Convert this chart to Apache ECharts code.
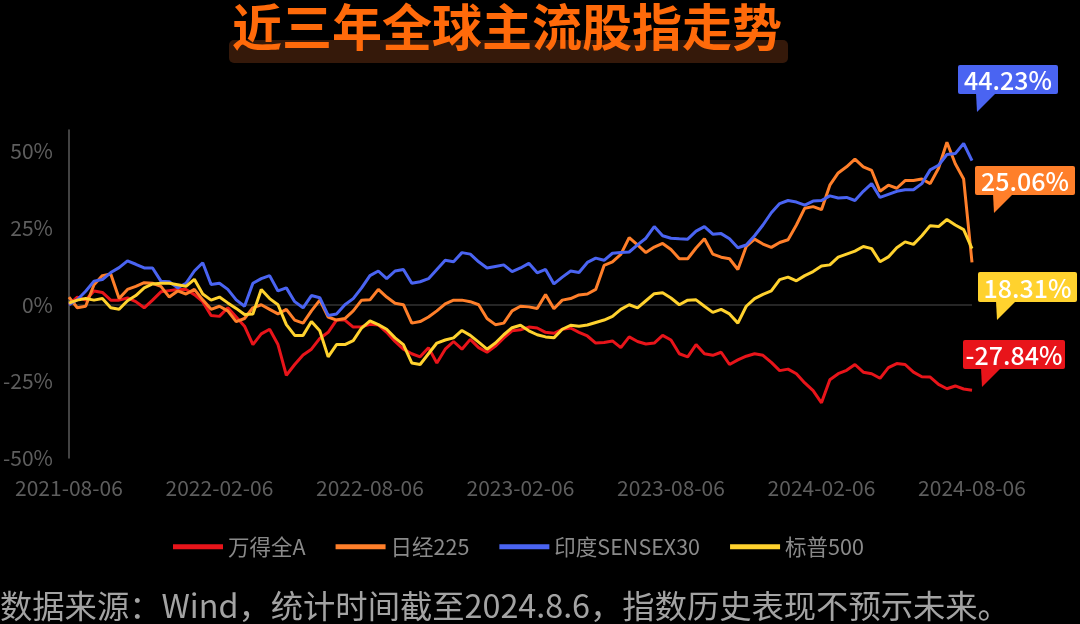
<!DOCTYPE html>
<html>
<head>
<meta charset="utf-8">
<script src="https://cdn.jsdelivr.net/npm/echarts@6/dist/echarts.min.js"></script>
<style>
html,body{margin:0;padding:0;background:#000;}
#c{width:1080px;height:624px;}
</style>
</head>
<body>
<div id="c"></div>
<script>
const titleText = '近三年全球主流股指走势';
const footText = '数据来源：Wind，统计时间截至2024.8.6，指数历史表现不预示未来。';
const seriesNames = ['万得全A', '日经225', '印度SENSEX30', '标普500'];
const endLabels = ['-27.84%', '25.06%', '44.23%', '18.31%'];
const xTickLabels = ['2021-08-06', '2022-02-06', '2022-08-06', '2023-02-06', '2023-08-06', '2024-02-06', '2024-08-06'];
const yTicks = [-50, -25, 0, 25, 50];

const windA = [0,2.5,1.5,4.5,4,1.5,1.5,2.2,1,-1,1.5,4.2,4.6,5,5,3.3,1,-3.5,-3.8,-1,-4,-7,-13,
-9.5,-8,-13,-23,-19.5,-16.4,-14.5,-11,-9,-5,-5,-7.3,-7.2,-6.4,-6.6,-9,-12,-14.5,-16,-17,-14,-19,
-14.5,-12,-14.5,-11.3,-14,-15.5,-13.5,-10.8,-8.5,-8.2,-7.3,-7.6,-9,-9.3,-8,-7.6,-9,-10.2,-12.5,-12.3,-11.8,-14,
-10.5,-12,-12.8,-12.5,-10,-11.5,-16,-17,-13,-16,-16.5,-15.5,-19.5,-18,-16.8,-16,-16.5,-18.8,-21.5,-21,-22.5,-25.5,
-28,-32,-24.5,-22.5,-21.4,-19.5,-22,-22.5,-24,-20.5,-19.2,-19.5,-22,-23.5,-23.6,-26,-27.4,-26.5,-27.5,-27.9];

const nikkei = [2.5,-1,-0.5,6.5,9.5,10,2,5,6,7.2,7,6,2.5,4.5,3.5,5,1.6,-1.5,-0.5,-2,-5.5,-4.5,-1,
0,-1.5,-3,-1.5,-5,-6,-2,1.5,-4,-5,-4.5,-2,1.5,1.6,5,2.5,0.5,0,-6,-5.5,-4,-2,
0.3,1.5,1.5,1,0,-4.5,-6.5,-6,-2,-0.5,-0.7,-1.2,3.3,-1.3,1.5,2,3.2,3.5,5,12.8,14,16.4,
21.9,19.5,17,18.8,20,18,15,15,18.5,21.5,16.5,15.5,15,11.5,19,21.4,19.8,18.7,20.3,21.2,26,31.5,
32,31,39,43,45,47.5,45,43.8,37,39,38,40.5,40.5,41,39.5,44.5,53,46,41,13.8];

const sensex = [0,1.6,4.4,7.7,8.2,10.5,12.1,14.3,13.2,12,12,7.7,7.5,5.5,7,11,13.7,6.6,7,5,1.6,-0.5,7,
8.5,9.5,4.5,5.5,1,-1,3,2.3,-3.5,-3,0,2,5.5,9.5,11,8.5,11,11.5,7,7.5,8.5,11.5,
14.5,14,17,16.5,14,12,12.5,13,10.8,12,13.5,10.4,11.5,6.8,9,11,10.5,13.8,15.2,14.5,16.8,17,
17.2,19.5,21.7,25.5,22.5,21.7,21.5,21.4,24,25.5,23,23.2,21.5,18.6,19.5,22.5,26,30,33,34,33.5,32.5,
33.8,34,35.5,34.8,35,34,37,39.5,35,36,37,37.5,37.5,39.5,44,45.5,49,49.3,52.6,47];

const sp500 = [0.5,1.5,2,1.5,2,-1,-1.5,1.3,3,5.5,6.8,7,7,6.5,6,8.3,3.5,1.5,2.5,0.6,-1.2,-3.2,-3,
5,2,0,-6.5,-10,-10,-5.5,-8.5,-17,-13,-13,-11.7,-7.6,-5.3,-6.5,-8,-10.8,-13,-19,-19.5,-16,-12.5,
-11.5,-10.8,-8.4,-10,-12.2,-14.5,-12.5,-9.8,-7.5,-6.7,-8.5,-9.8,-10.5,-10.8,-8,-6.7,-7,-6.6,-5.8,-5,-3.8,-1.5,
0,-1,1.3,3.6,3.9,2.2,0,1.5,1.6,-0.5,-2.5,-1.5,-3,-6,-0.5,2,3.4,4.5,8.2,9,7.8,9.5,
10.8,12.6,13,15.5,16.5,17.5,19,18.3,14,15.6,18.6,20.5,19.7,22.5,25.8,25.5,27.8,26,24.5,18.3];

const colors = ['#e8141a', '#ff7f2a', '#4a64f2', '#ffd22e'];
const seriesData = [windA, nikkei, sensex, sp500];

// category slots: 18 per half-year between ticks
const stepsPerTick = (windA.length - 1) / (xTickLabels.length - 1);
const categories = windA.map((_, i) => (i % stepsPerTick === 0) ? xTickLabels[i / stepsPerTick] : 'p' + i);

const FONT = 'Noto Sans CJK SC';

function callout(x, y, w, h, color, text) {
  return {
    type: 'group',
    children: [
      { type: 'rect', shape: { x: x, y: y, width: w, height: h, r: 2 }, style: { fill: color } },
      { type: 'polygon', shape: { points: [[x + 18, y + h - 1], [x + 38, y + h - 1], [x + 19, y + h + 18]] }, style: { fill: color } },
      { type: 'text', x: x + w / 2, y: y + h / 2 + 1, style: { text: text, fill: '#fff', font: '500 25px "Noto Sans CJK SC"', align: 'center', verticalAlign: 'middle' } }
    ]
  };
}

const chart = echarts.init(document.getElementById('c'), null, { renderer: 'canvas' });
chart.setOption({
  backgroundColor: '#000',
  animation: false,
  color: colors,
  grid: { left: 67, right: 108, top: 130, bottom: 166, containLabel: false },
  legend: {
    data: seriesNames,
    top: 531,
    left: 168,
    icon: 'rect',
    itemWidth: 50,
    itemHeight: 5,
    itemGap: 30,
    textStyle: { color: '#8a8a8a', fontSize: 21.5, fontFamily: FONT }
  },
  xAxis: {
    type: 'category',
    data: categories,
    boundaryGap: false,
    axisLine: { show: false, onZero: false },
    axisTick: { show: false },
    splitLine: { show: false },
    axisLabel: {
      interval: stepsPerTick - 1,
      color: '#5e5e5e',
      fontSize: 21,
      fontFamily: FONT,
      margin: 20
    }
  },
  yAxis: {
    type: 'value',
    min: -50,
    max: 57,
    interval: 25,
    axisLine: { show: true, lineStyle: { color: '#5a5a5a', width: 1.5 } },
    axisTick: { show: false },
    splitLine: { show: false },
    axisLabel: {
      color: '#5e5e5e',
      fontSize: 21,
      fontFamily: FONT,
      margin: 16,
      formatter: v => (yTicks.indexOf(v) >= 0 ? v + '%' : '')
    }
  },
  series: seriesNames.map((name, k) => ({
    name: name,
    type: 'line',
    data: seriesData[k],
    symbol: 'none',
    lineStyle: { width: 3, color: colors[k] },
    itemStyle: { color: colors[k] },
    z: 2 + k,
    markLine: k === 0 ? {
      silent: true,
      symbol: 'none',
      label: { show: false },
      lineStyle: { color: '#333', type: 'solid', width: 1.5 },
      data: [{ yAxis: 0 }],
      z: 1
    } : undefined
  })),
  graphic: [
    { type: 'rect', shape: { x: 229, y: 40, width: 559, height: 23, r: 5 }, style: { fill: '#35190a' }, z: 0 },
    { type: 'text', x: 507, y: 27, style: { text: titleText, fill: '#ff6a0a', font: 'bold 50px "Noto Sans CJK SC"', align: 'center', verticalAlign: 'middle' }, z: 1 },
    callout(958, 65, 100, 29, colors[2], endLabels[2]),
    callout(975, 166, 100, 29, colors[1], endLabels[1]),
    callout(978, 272, 99, 30, colors[3], endLabels[3]),
    callout(963, 340, 102, 29, colors[0], endLabels[0]),
    { type: 'text', x: 0, y: 606, style: { text: footText, fill: '#a3a3a3', font: '32.3px "Noto Sans CJK SC"', align: 'left', verticalAlign: 'middle' } }
  ]
});
</script>
</body>
</html>
